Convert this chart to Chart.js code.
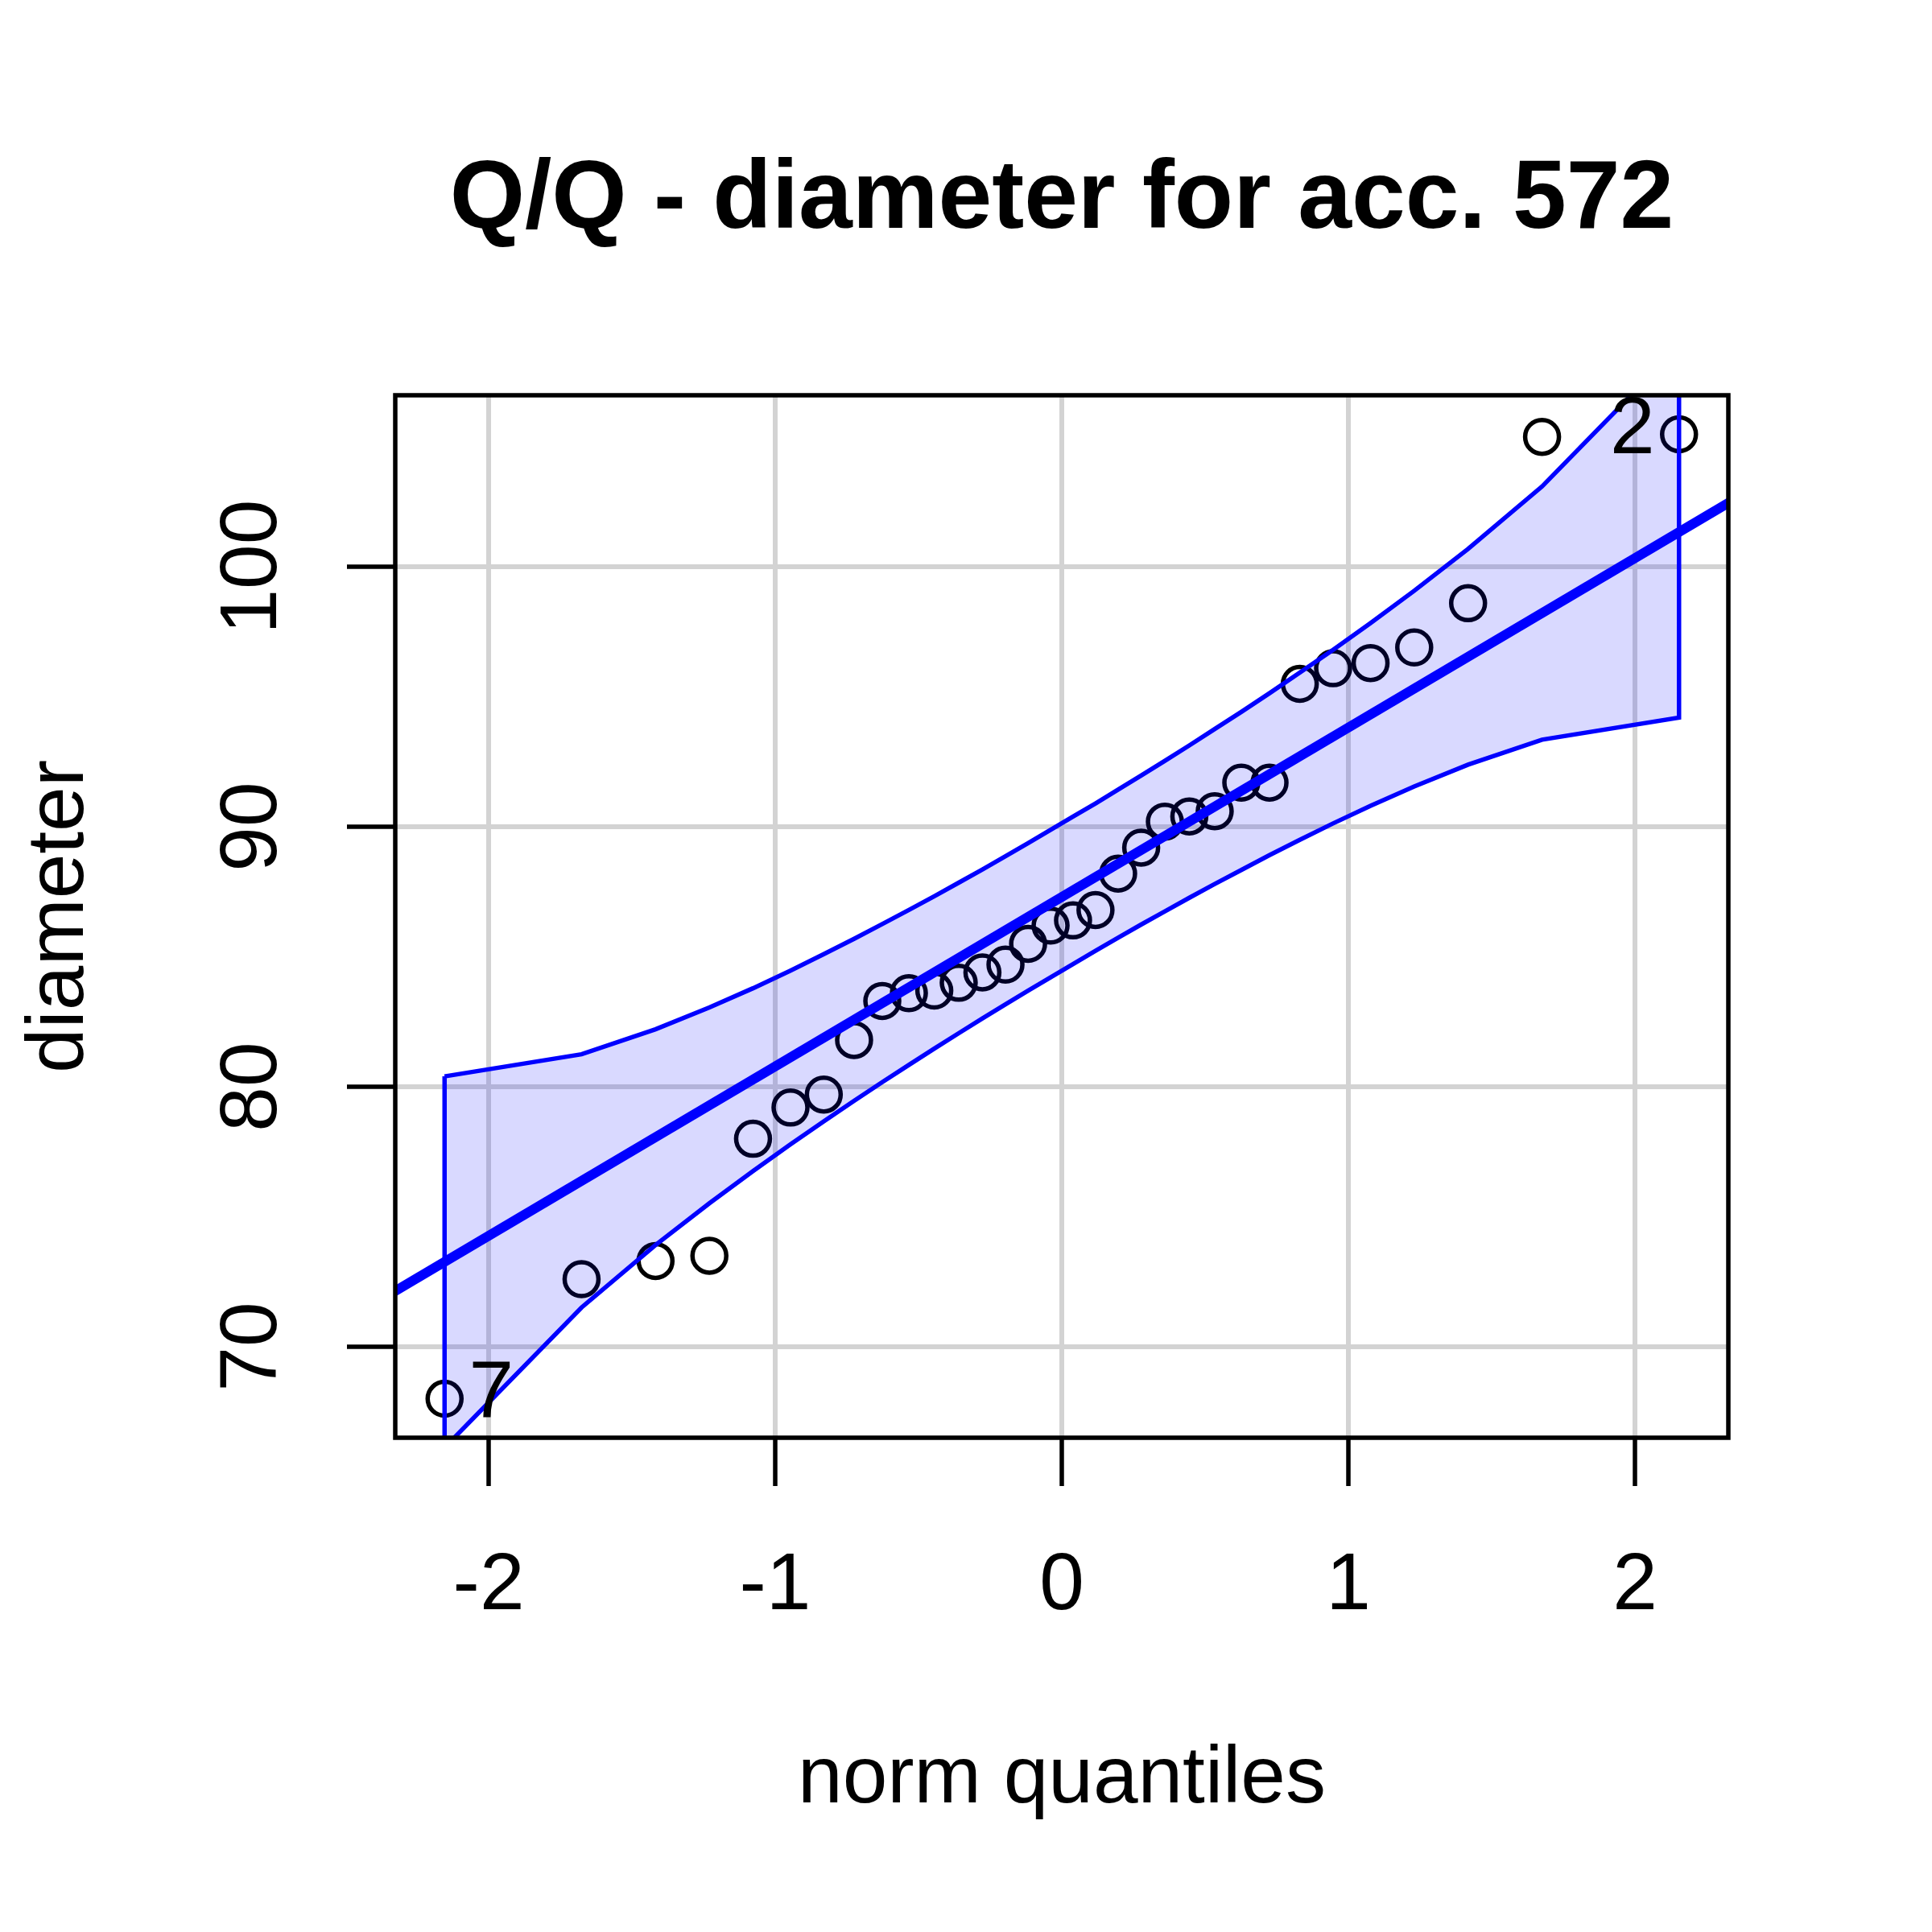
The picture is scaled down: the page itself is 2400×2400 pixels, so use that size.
<!DOCTYPE html>
<html>
<head>
<meta charset="utf-8">
<title>Q/Q - diameter for acc. 572</title>
<script src="https://cdn.jsdelivr.net/npm/chart.js@4.4.1/dist/chart.umd.min.js"></script>
<style>
  html, body { margin: 0; padding: 0; background: #fff; }
  #wrap { width: 2400px; height: 2400px; }
</style>
</head>
<body>
<div id="wrap"><canvas id="qq" width="2400" height="2400"></canvas></div>
<script>
// normal quantiles (x) and sorted diameters (y)
const normQ = [-2.1539, -1.6759, -1.4178, -1.2298, -1.0775, -0.9467, -0.8306, -0.7249,
  -0.6264, -0.5336, -0.4450, -0.3597, -0.2770, -0.1965, -0.1176, -0.0392,
  0.0392, 0.1176, 0.1965, 0.2770, 0.3597, 0.4450, 0.5336, 0.6264,
  0.7249, 0.8306, 0.9467, 1.0775, 1.2298, 1.4178, 1.6759, 2.1539];
const diameter = [68.0, 72.6, 73.3, 73.5, 78.0, 79.2, 79.7, 81.8,
  83.3, 83.6, 83.7, 84.0, 84.4, 84.7, 85.5, 86.2,
  86.4, 86.8, 88.2, 89.2, 90.2, 90.4, 90.6, 91.7,
  91.7, 95.5, 96.1, 96.3, 96.9, 98.6, 105.0, 105.1];

// confidence envelope
const envUpper = [80.40, 81.25, 82.21, 83.05, 83.79, 84.47, 85.10, 85.69,
  86.26, 86.80, 87.33, 87.85, 88.36, 88.87, 89.37, 89.88,
  90.39, 90.90, 91.43, 91.97, 92.54, 93.13, 93.76, 94.42,
  95.14, 95.93, 96.81, 97.84, 99.08, 100.69, 103.09, 108.48];
const envLower = [66.12, 71.51, 73.91, 75.52, 76.76, 77.79, 78.67, 79.46,
  80.18, 80.84, 81.47, 82.06, 82.63, 83.17, 83.70, 84.21,
  84.72, 85.23, 85.73, 86.24, 86.75, 87.27, 87.80, 88.34,
  88.91, 89.50, 90.13, 90.81, 91.55, 92.39, 93.35, 94.20];

// reference line end points
const refX = [-2.4, 2.4];
const refY = [71.66, 102.94];

const xTicks = [-2, -1, 0, 1, 2];
const yTicks = [70, 80, 90, 100];

// labelled outliers (index into the sorted data) and their labels
const outlierIdx = [0, 31];
const outlierText = ['7', '2'];

const FONT = '"Liberation Sans", Arial, sans-serif';

const points = normQ.map((q, i) => ({ x: q, y: diameter[i] }));
const envelope = normQ.map((q, i) => ({ x: q, y: envUpper[i] }))
  .concat(normQ.map((q, i) => ({ x: q, y: envLower[i] })).reverse());
envelope.push(envelope[0]);
const refLine = refX.map((x, i) => ({ x: x, y: refY[i] }));

// box round the plot region + outlier labels
const boxPlugin = {
  id: 'plotBox',
  afterDatasetsDraw(chart) {
    const { ctx, scales: { x, y } } = chart;
    ctx.save();
    ctx.font = '100px ' + FONT;
    ctx.fillStyle = '#000';
    ctx.textAlign = 'center';
    ctx.textBaseline = 'middle';
    outlierIdx.forEach((idx, k) => {
      const px = x.getPixelForValue(normQ[idx]);
      const py = y.getPixelForValue(diameter[idx]);
      const dx = normQ[idx] < 0 ? 58 : -58;
      ctx.fillText(outlierText[k], px + dx, py - 4);
    });
    ctx.restore();
  },
  afterDraw(chart) {
    const { ctx, chartArea: a } = chart;
    ctx.save();
    ctx.strokeStyle = '#000';
    ctx.lineWidth = 5.5;
    ctx.strokeRect(a.left, a.top, a.right - a.left, a.bottom - a.top);
    ctx.restore();
  }
};

new Chart(document.getElementById('qq'), {
  type: 'scatter',
  data: {
    datasets: [
      {
        type: 'line',
        label: 'reference',
        data: refLine,
        borderColor: 'rgb(0,0,255)',
        borderWidth: 12,
        pointRadius: 0,
        fill: false,
        order: 1
      },
      {
        type: 'line',
        label: 'envelope',
        data: envelope,
        borderColor: 'rgb(0,0,255)',
        backgroundColor: 'rgba(0,0,255,0.15)',
        borderWidth: 5.5,
        pointRadius: 0,
        fill: 'shape',
        order: 2
      },
      {
        label: 'diameter',
        data: points,
        pointStyle: 'circle',
        pointRadius: 21,
        pointHoverRadius: 21,
        pointBorderWidth: 5.5,
        pointBorderColor: '#000',
        pointBackgroundColor: 'rgba(0,0,0,0)',
        order: 3
      }
    ]
  },
  options: {
    responsive: false,
    devicePixelRatio: 1,
    animation: false,
    events: [],
    layout: { padding: { left: 0, right: 253, top: 0, bottom: 0 } },
    plugins: {
      legend: { display: false },
      tooltip: { enabled: false },
      title: {
        display: true,
        text: 'Q/Q - diameter for acc. 572',
        fullSize: false,
        color: '#000',
        font: { family: FONT, size: 120, weight: 'bold' },
        padding: { top: 178, bottom: 169 }
      }
    },
    scales: {
      x: {
        type: 'linear',
        position: 'bottom',
        min: -2.326,
        max: 2.326,
        afterBuildTicks: s => { s.ticks = xTicks.map(v => ({ value: v })); },
        afterFit: s => { s.height = 614; },
        border: { display: false },
        grid: { color: '#d3d3d3', lineWidth: 6, tickColor: '#000', tickWidth: 5.5, tickLength: 60 },
        ticks: {
          color: '#000',
          font: { family: FONT, size: 100 },
          padding: 65,
          maxRotation: 0,
          autoSkip: false,
          callback: v => String(v)
        },
        title: {
          display: true,
          text: 'norm quantiles',
          color: '#000',
          font: { family: FONT, size: 100 },
          padding: { top: 0, bottom: 129 }
        }
      },
      y: {
        type: 'linear',
        position: 'left',
        min: 66.5,
        max: 106.6,
        afterBuildTicks: s => { s.ticks = yTicks.map(v => ({ value: v })); },
        afterFit: s => { s.width = 491; },
        border: { display: false },
        grid: { color: '#d3d3d3', lineWidth: 6, tickColor: '#000', tickWidth: 5.5, tickLength: 60 },
        ticks: {
          color: '#000',
          font: { family: FONT, size: 100 },
          padding: 32,
          minRotation: 90,
          maxRotation: 90,
          crossAlign: 'center',
          autoSkip: false,
          callback: v => String(v)
        },
        title: {
          display: true,
          text: 'diameter',
          color: '#000',
          font: { family: FONT, size: 100 },
          padding: { top: 15, bottom: 0 }
        }
      }
    }
  },
  plugins: [boxPlugin]
});
</script>
</body>
</html>
